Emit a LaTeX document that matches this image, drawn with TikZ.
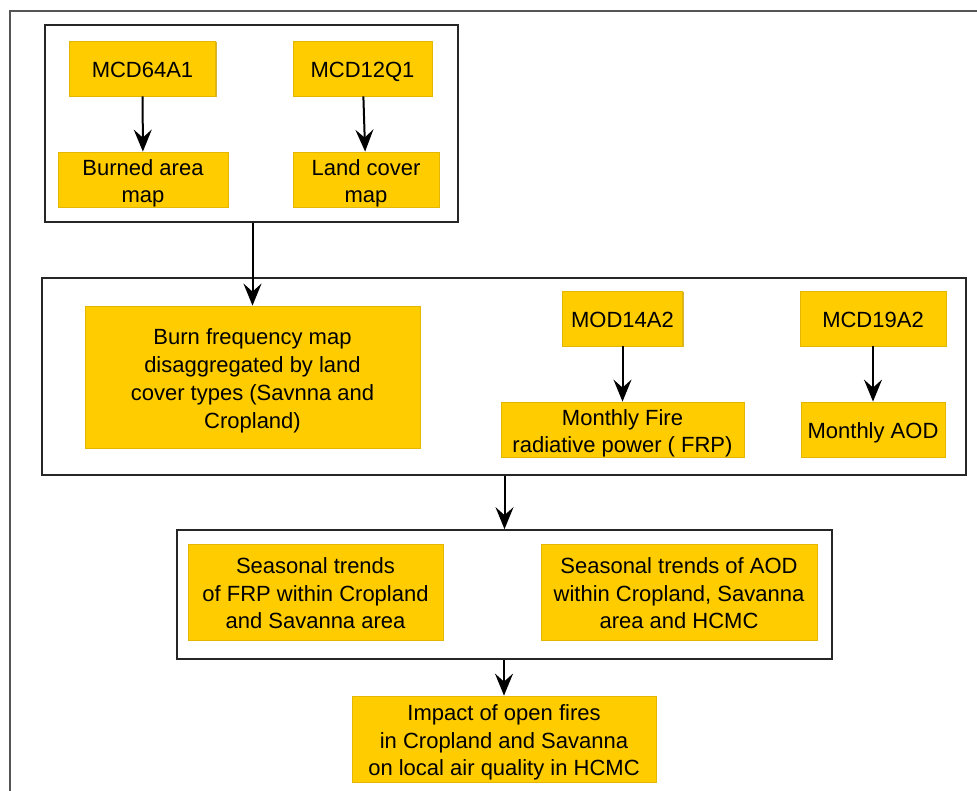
\documentclass[tikz,border=0pt]{standalone}
\usepackage{fontspec}
\setmainfont{Liberation Sans}
\usetikzlibrary{arrows.meta,shadows}
\definecolor{boxfill}{HTML}{FFCC00}
\definecolor{boxedge}{HTML}{E3B600}
\definecolor{boxshade}{HTML}{C9A000}
\definecolor{framegray}{HTML}{555555}
% fixed height for the first line of every label
\newcommand\firstln{\rule{0pt}{21pt}}
\tikzset{
  databox/.style={rectangle, fill=boxfill, draw=boxedge, line width=0.8pt,
    inner sep=0pt, align=center, text=black,
    font=\fontsize{22}{27.5}\selectfont, text depth=2.2pt,
    drop shadow={shadow xshift=1.2pt, shadow yshift=-1.2pt, fill=boxshade, opacity=0.8}},
  groupbox/.style={rectangle, draw=black!85, line width=1.7pt, inner sep=0pt},
  arr/.style={-{Stealth[length=22pt,width=18pt,inset=8pt]}, line width=2pt, black}
}
\begin{document}
\begin{tikzpicture}[x=1pt,y=-1pt]
\useasboundingbox (0,0) rectangle (977,791);
% page frame (left and top edges)
\draw[framegray, line width=2.2pt] (10,800) -- (10,11) -- (990,11);

% first group: burned area and land cover products
\node[groupbox, minimum width=413pt, minimum height=197pt] (g1) at (251.5,123.5) {};
\node[databox, minimum width=146pt, minimum height=55pt] (m64) at (142.5,68.5) {\firstln MCD64A1};
\node[databox, minimum width=170pt, minimum height=55pt] (bam) at (143,179.5) {\firstln Burned area\\map};
\node[databox, minimum width=139pt, minimum height=55pt] (m12) at (362.5,68.5) {\firstln MCD12Q1};
\node[databox, minimum width=146pt, minimum height=55pt] (lcm) at (366,179.5) {\firstln Land cover\\map};

% second group: burn frequency, fire power and aerosol products
\node[groupbox, minimum width=924pt, minimum height=197pt] (g2) at (504,376.5) {};
\node[databox, minimum width=335pt, minimum height=142pt, font=\fontsize{22}{28}\selectfont] (bfm) at (252.5,377) {\firstln Burn frequency map\\ disaggregated by land\\cover types (Savnna and\\Cropland)};
\node[databox, minimum width=120pt, minimum height=55pt] (m14) at (622.5,318.5) {\firstln MOD14A2};
\node[databox, minimum width=243pt, minimum height=55pt] (frp) at (622.5,429.5) {\firstln Monthly Fire\\radiative power ( FRP)};
\node[databox, minimum width=146pt, minimum height=55pt] (m19) at (873,318.5) {\firstln MCD19A2};
\node[databox, minimum width=144pt, minimum height=55pt] (aod) at (873,429.5) {\firstln Monthly AOD};

% third group: seasonal trends
\node[groupbox, minimum width=655pt, minimum height=129pt] (g3) at (504.5,594.5) {};
\node[databox, minimum width=255pt, minimum height=96pt] (sfrp) at (315.5,592) {\firstln Seasonal trends\\of FRP within Cropland\\and Savanna area};
\node[databox, minimum width=276pt, minimum height=96pt] (saod) at (679,592) {\firstln Seasonal trends of AOD\\within Cropland, Savanna\\area and HCMC};

% final outcome
\node[databox, minimum width=304pt, minimum height=86pt] (imp) at (504,739) {\firstln Impact of open fires\\in Cropland and Savanna\\on local air quality in HCMC};

% connectors
\draw[arr] (m64) -- (bam);
\draw[arr] (m12) -- (lcm);
\draw[arr] (g1.south -| bfm.north) -- (bfm.north);
\draw[arr] (m14) -- (frp);
\draw[arr] (m19) -- (aod);
\draw[arr] (g2.south -| g3.north) -- (g3.north);
\draw[arr] (g3.south -| imp.north) -- (imp.north);
\end{tikzpicture}
\end{document}
